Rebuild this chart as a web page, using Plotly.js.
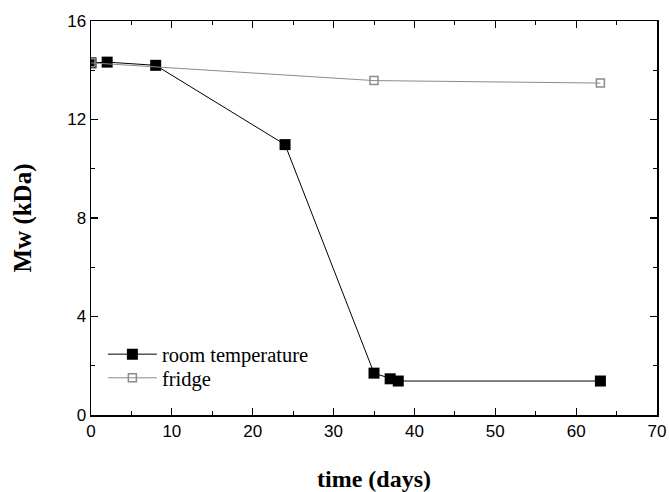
<!DOCTYPE html>
<html>
<head>
<meta charset="utf-8">
<script src="https://cdn.plot.ly/plotly-3.0.1.min.js"></script>
<style>html,body{margin:0;padding:0;background:#fff}#chart{width:669px;height:492px}</style>
</head>
<body>
<div id="chart"></div>
<script>
const roomDays = [0, 2, 8, 24, 35, 37, 38, 63];
const roomMw = [14.3, 14.33, 14.2, 10.98, 1.7, 1.47, 1.38, 1.38];
const fridgeDays = [0, 35, 63];
const fridgeMw = [14.3, 13.58, 13.48];

const traces = [
  {
    x: roomDays, y: roomMw, name: 'room temperature', type: 'scatter', mode: 'lines+markers',
    legend: 'legend',
    line: {color: '#000', width: 1},
    marker: {symbol: 'square', size: 11, color: '#000', line: {color: '#000', width: 0}}
  },
  {
    x: fridgeDays, y: fridgeMw, name: 'fridge', type: 'scatter', mode: 'lines+markers',
    legend: 'legend2',
    line: {color: '#8c8c8c', width: 1},
    marker: {symbol: 'square-open', size: 8, color: '#8c8c8c', line: {color: '#8c8c8c', width: 1.5}}
  }
];

const axisCommon = {
  showgrid: false, zeroline: false, showline: true, linecolor: '#000', linewidth: 1.5,
  mirror: 'ticks', ticks: 'inside', ticklen: 7, tickwidth: 1.2, tickcolor: '#000',
  tickfont: {family: 'Liberation Sans, Arial, sans-serif', size: 17, color: '#000'}
};

const legendCommon = {
  xanchor: 'left', yanchor: 'middle', bgcolor: 'rgba(0,0,0,0)', borderwidth: 0,
  font: {family: 'Liberation Serif, Times New Roman, serif', size: 20.5, color: '#000'},
  itemwidth: 49
};

const layout = {
  width: 669, height: 492,
  margin: {l: 91, r: 12, t: 21, b: 77},
  paper_bgcolor: '#fff', plot_bgcolor: '#fff',
  showlegend: true,
  legend: Object.assign({}, legendCommon, {x: 0.021, y: 0.154}),
  legend2: Object.assign({}, legendCommon, {x: 0.021, y: 0.094}),
  xaxis: Object.assign({}, axisCommon, {
    range: [0, 70], tick0: 0, dtick: 10,
    minor: {ticks: 'inside', ticklen: 4, dtick: 5, tickcolor: '#000', tickwidth: 1},
    title: {text: '<b>time (days)</b>', standoff: 34,
      font: {family: 'Liberation Serif, Times New Roman, serif', size: 24, color: '#000'}}
  }),
  yaxis: Object.assign({}, axisCommon, {
    range: [0, 16], tick0: 0, dtick: 4,
    minor: {ticks: 'inside', ticklen: 4, dtick: 2, tickcolor: '#000', tickwidth: 1},
    title: {text: '<b>Mw (kDa)</b>', standoff: 28,
      font: {family: 'Liberation Serif, Times New Roman, serif', size: 25, color: '#000'}}
  })
};

Plotly.newPlot('chart', traces, layout, {displayModeBar: false, staticPlot: true});
</script>
</body>
</html>
